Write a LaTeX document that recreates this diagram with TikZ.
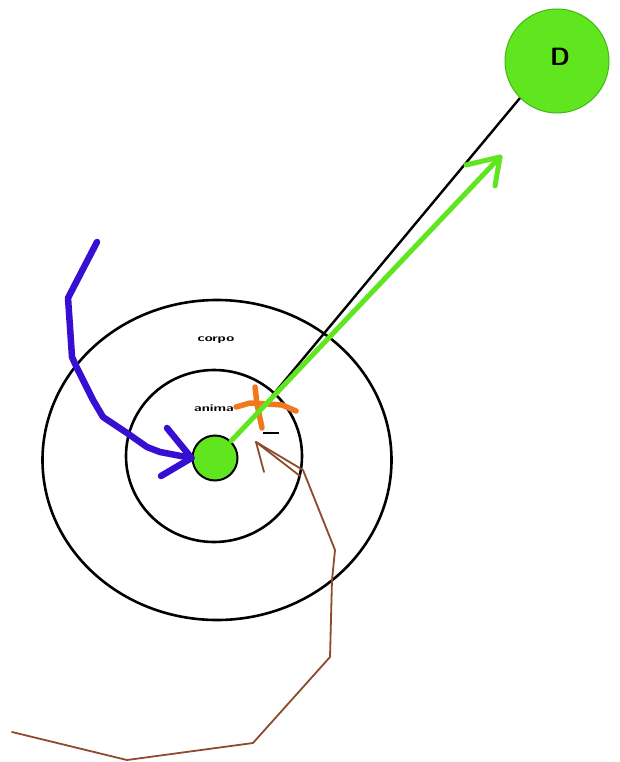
\documentclass[tikz,border=0pt]{standalone}
\usetikzlibrary{shapes.geometric,arrows.meta}
\definecolor{soulgreen}{RGB}{96,230,30}
\definecolor{dgreen}{RGB}{70,180,20}
\definecolor{penblue}{RGB}{55,15,210}
\definecolor{penbrown}{RGB}{140,75,45}
\definecolor{penorange}{RGB}{240,120,30}
\tikzset{
  ring/.style={draw=black, line width=2.6pt, ellipse, inner sep=0pt},
  ball/.style={draw=black, line width=2pt, fill=soulgreen, circle, inner sep=0pt},
  lbl/.style={font=\sffamily\bfseries\fontsize{10}{11}\selectfont},
  bluepen/.style={draw=penblue, line width=6.5pt, line cap=round, line join=round},
  greenpen/.style={draw=soulgreen, line width=5pt, line cap=round, line join=round},
  brownpen/.style={draw=penbrown, line width=1.8pt, line cap=round, line join=round},
  orangepen/.style={draw=penorange, line width=5.5pt, line cap=round, line join=round},
}
\begin{document}
\begin{tikzpicture}[x=1pt,y=-1pt]
\useasboundingbox (0,0) rectangle (619,762);
\fill[white] (0,0) rectangle (619,762);
% rings
\node[ring, minimum width=349pt, minimum height=320pt] (corpo) at (217,460) {};
\node[ring, minimum width=176pt, minimum height=172pt] (animaring) at (214,456) {};
\node[lbl] (tcorpo) at (216,340) {\scalebox{1.45}[1]{corpo}};
\node[lbl] (tanima) at (214,408) {\scalebox{1.45}[1]{anima}};
% D
\node[ball, draw=dgreen, line width=1pt, minimum size=104pt] (D) at (557,61) {};
\node[font=\sffamily\bfseries\fontsize{25}{26}\selectfont] (tD) at (560,57) {D};
% soul
\node[ball, minimum size=45pt] (S) at (215,458) {};
% black line
\coordinate (blackend) at (272,396);
\draw[line width=2.4pt] (D.225) -- (blackend);
% brown path
\coordinate (b1) at (12,732);
\coordinate (bA) at (256,442);
\draw[brownpen] (b1) -- (127,760) -- (253,743) -- (330,657) -- (332,580) -- (335,550) -- (303,470) -- (bA);
\draw[brownpen] (bA) -- (264,472);
\draw[brownpen] (bA) -- (300,476);
\draw[draw=black, line width=2pt] (263,433) -- (279,433);
% orange mark
\draw[orangepen] (236,407) -- (250,403) -- (268,404) -- (282,405) -- (296,411);
\draw[orangepen] (255,387) -- (257,404) -- (262,428);
% green arrow
\coordinate (gtip) at (500,157);
\draw[greenpen] (S) -- (gtip);
\draw[greenpen] (466,165) -- (gtip) -- (495,186);
% blue path
\coordinate (bl0) at (97,242);
\draw[bluepen] (bl0) -- (68,298) -- (70,327) -- (72,357) -- (77,368) -- (93,400) -- (103,417) -- (127,433) -- (147,447) -- (160,452) -- (S.west);
\draw[bluepen] (167,428) -- (S.west) -- (161,476);
\end{tikzpicture}
\end{document}
